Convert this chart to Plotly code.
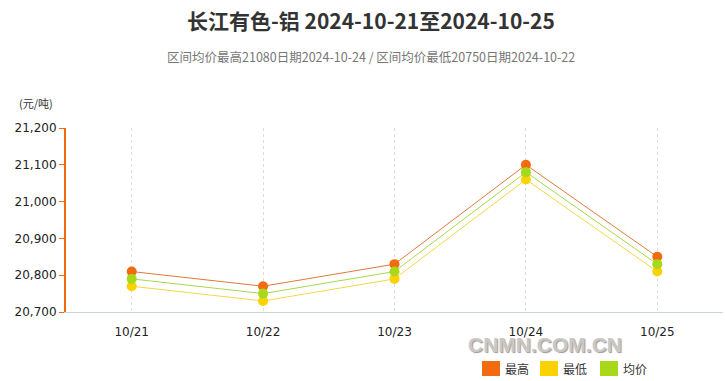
import plotly.graph_objects as go

dates = ["10/21", "10/22", "10/23", "10/24", "10/25"]
high = [20810, 20770, 20830, 21100, 20850]
low = [20770, 20730, 20790, 21060, 20810]
avg = [20790, 20750, 20810, 21080, 20830]
y_ticks = [20700, 20800, 20900, 21000, 21100, 21200]
names = ["最高", "最低", "均价"]
colors = ["#F26B0F", "#F9D200", "#A8D81A"]
line_colors = ["#E07A3A", "#F2D84A", "#A8D84A"]

FONT = "Noto Sans CJK SC, Open Sans, sans-serif"
TICKFONT = "DejaVu Sans, Verdana, sans-serif"
W, H = 725, 381
ML, MR, MT, MB = 66, 2, 128, 69

fig = go.Figure()
xs = list(range(len(dates)))
for vals, name, c, lc in zip([high, low, avg], names, colors, line_colors):
    fig.add_trace(go.Scatter(
        x=xs, y=vals, name=name, mode="lines+markers",
        line=dict(color=lc, width=1),
        marker=dict(color=c, size=10),
        showlegend=False,
    ))

fig.update_layout(
    width=W, height=H,
    margin=dict(l=ML, r=MR, t=MT, b=MB),
    paper_bgcolor="white", plot_bgcolor="white",
    font=dict(family=FONT, size=11, color="#333"),
    xaxis=dict(
        range=[-0.5, len(dates) - 0.5],
        tickmode="array", tickvals=xs, ticktext=dates,
        showgrid=True, gridcolor="#D8DEE6", griddash="dot", gridwidth=1,
        showline=True, linecolor="#C8D3E0", linewidth=1,
        ticks="", zeroline=False, fixedrange=True,
        ticklabelstandoff=9,
        tickfont=dict(size=12, color="#222", family=TICKFONT),
    ),
    yaxis=dict(
        range=[20700, 21200],
        tickmode="array", tickvals=y_ticks,
        ticktext=[f"{v:,}" for v in y_ticks],
        showgrid=False, zeroline=False,
        showline=True, linecolor="#F26B0F", linewidth=2,
        ticks="outside", ticklen=5, tickcolor="#F26B0F", tickwidth=1,
        tickfont=dict(size=12, color="#222", family=TICKFONT),
    ),
    showlegend=False,
)


def px_to_paper(px, py):
    return (px - ML) / (W - ML - MR), (H - MB - py) / (H - MT - MB)


tx, ty = px_to_paper(371, 20)
fig.add_annotation(text="<b>长江有色-铝 2024-10-21至2024-10-25</b>",
                   xref="paper", yref="paper", x=tx, y=ty, showarrow=False,
                   xanchor="center", yanchor="middle",
                   font=dict(size=21, color="#333", family=FONT))
sx, sy = px_to_paper(371, 56)
fig.add_annotation(text="区间均价最高21080日期2024-10-24 / 区间均价最低20750日期2024-10-22",
                   xref="paper", yref="paper", x=sx, y=sy, showarrow=False,
                   xanchor="center", yanchor="middle",
                   font=dict(size=12.5, color="#777", family=FONT))
ux, uy = px_to_paper(36, 103)
fig.add_annotation(text="(元/吨)", xref="paper", yref="paper", x=ux, y=uy,
                   showarrow=False, xanchor="center", yanchor="middle",
                   font=dict(size=11, color="#333", family=FONT))
# watermark
wx, wy = px_to_paper(545, 344)
fig.add_annotation(text="<b>CNMN.COM.CN</b>", xref="paper", yref="paper", x=wx, y=wy,
                   showarrow=False, xanchor="center", yanchor="middle",
                   font=dict(size=21, color="rgb(200,200,200)",
                             family="Liberation Sans, Arial",
                             shadow="1px 1px 1px rgba(110,110,110,0.7)"))

# custom legend
leg_x = [483, 541, 601]
for lx, name, c in zip(leg_x, names, colors):
    x0, y0 = px_to_paper(lx - 1, 361)
    x1, y1 = px_to_paper(lx + 17, 376)
    fig.add_shape(type="rect", xref="paper", yref="paper",
                  x0=x0, x1=x1, y0=y1, y1=y0,
                  fillcolor=c, line=dict(width=0))
    lx2, ly2 = px_to_paper(lx + 20, 368.5)
    fig.add_annotation(text=name, xref="paper", yref="paper", x=lx2, y=ly2,
                       showarrow=False, xanchor="left", yanchor="middle",
                       font=dict(size=12, color="#333", family=FONT))

fig.write_html("out.html",
               config={"displayModeBar": False},
               post_script="document.body.style.margin='0';document.body.style.overflow='hidden';")
